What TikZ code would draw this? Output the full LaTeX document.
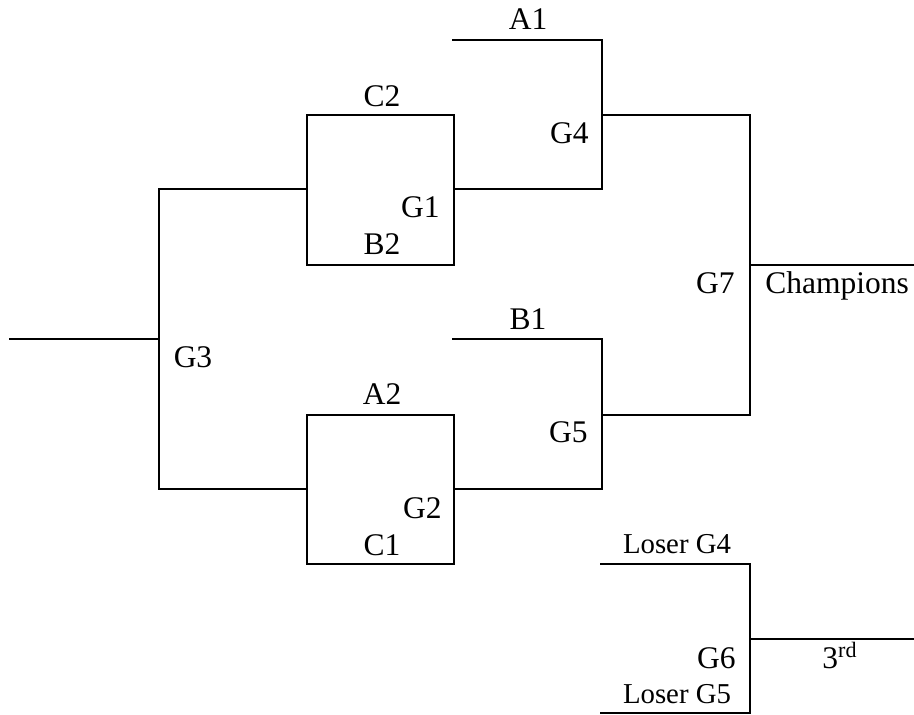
\documentclass[tikz,border=0pt]{standalone}
\usepackage{fontspec}
\setmainfont{Liberation Serif}
\usepackage{tikz}
\usetikzlibrary{positioning}
\tikzset{
    %Define style for bracket lines
    bline/.style={
           draw=black,
           line width=1.2pt,
           line cap=rect},
    %Define style for labels
    team/.style={
           inner sep=0pt,
           font=\fontsize{15.75}{19}\selectfont,
           anchor=base},
    loser/.style={
           team,
           font=\fontsize{14.4}{17}\selectfont},
    game/.style={
           team,
           anchor=base east}
}
\begin{document}
\begin{tikzpicture}[x=0.5pt,y=-0.5pt]
\useasboundingbox (0,0) rectangle (914,715);

 %corners
\coordinate (in) at (10,339);
\coordinate (g3t) at (159,189);
\coordinate (g3m) at (159,339);
\coordinate (g3b) at (159,489);
\coordinate (g1a) at (307,115);
\coordinate (g1b) at (454,265);
\coordinate (g1l) at (307,189);
\coordinate (g1r) at (454,189);
\coordinate (g2a) at (307,415);
\coordinate (g2b) at (454,564);
\coordinate (g2l) at (307,489);
\coordinate (g2r) at (454,489);
\coordinate (a1) at (453,40);
\coordinate (g4t) at (602,40);
\coordinate (g4m) at (602,115);
\coordinate (g4b) at (602,189);
\coordinate (b1) at (453,339);
\coordinate (g5t) at (602,339);
\coordinate (g5m) at (602,415);
\coordinate (g5b) at (602,489);
\coordinate (g7t) at (750,115);
\coordinate (g7m) at (750,265);
\coordinate (g7b) at (750,415);
\coordinate (champ) at (914,265);
\coordinate (l4) at (601,564);
\coordinate (l5) at (601,713);
\coordinate (g6t) at (750,564);
\coordinate (g6m) at (750,639);
\coordinate (g6b) at (750,713);
\coordinate (third) at (914,639);

 %lines
\draw[bline] (in) -- (g3m);
\draw[bline] (g1l) -- (g3t) -- (g3b) -- (g2l);
\draw[bline] (g1a) rectangle (g1b);
\draw[bline] (g2a) rectangle (g2b);
\draw[bline] (a1) -- (g4t) -- (g4b) -- (g1r);
\draw[bline] (b1) -- (g5t) -- (g5b) -- (g2r);
\draw[bline] (g4m) -- (g7t) -- (g7b) -- (g5m);
\draw[bline] (g7m) -- (champ);
\draw[bline] (l4) -- (g6t) -- (g6b) -- (l5);
\draw[bline] (g6m) -- (third);

 %labels
\node[team] (c2) at (382,107) {C2};
\node[team] (b2) at (382,255) {B2};
\node[team] (a2) at (382,405) {A2};
\node[team] (c1) at (382,555) {C1};
\node[team] (a1l) at (528,30) {A1};
\node[team] (b1l) at (528,330) {B1};
\node[loser] (los4) at (677,553) {Loser G4};
\node[loser] (los5) at (677,703) {Loser G5};
\node[team] (g3l) at (193,368) {G3};
\node[game] (g1n) at (440,218) {G1};
\node[game] (g2n) at (442,518) {G2};
\node[game] (g4n) at (589,144) {G4};
\node[game] (g5n) at (588,443) {G5};
\node[game] (g7n) at (735,294) {G7};
\node[game] (g6n) at (736,668) {G6};
\node[team, anchor=base west] (chn) at (765,294) {Champions};
\node[team, anchor=base west] (thn) at (822,668) {3\textsuperscript{rd}};
\end{tikzpicture}
\end{document}
